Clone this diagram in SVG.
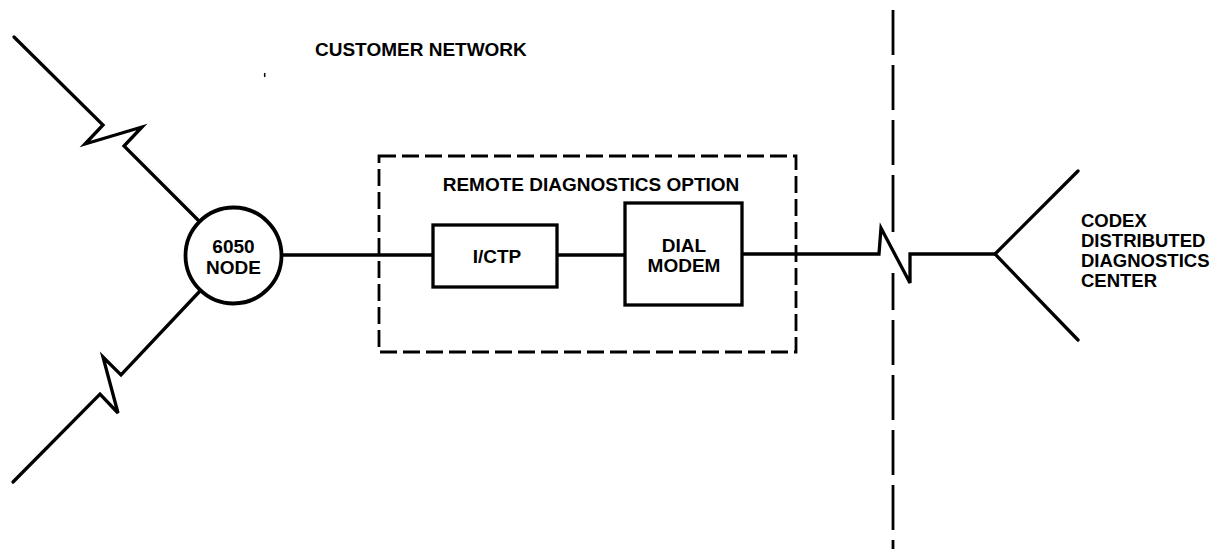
<svg xmlns="http://www.w3.org/2000/svg" width="1217" height="549" viewBox="0 0 1217 549">
<style>
.ln{fill:none;stroke:#000;stroke-width:3.3;stroke-linejoin:miter;stroke-linecap:round}
.box{fill:#fff;stroke:#000;stroke-width:3.3}
.dash{fill:none;stroke:#000;stroke-width:2.8;stroke-dasharray:17 6}
.t{font-family:"Liberation Sans",Arial,sans-serif;font-weight:bold;font-size:19px;fill:#000}
.m{text-anchor:middle}
</style>
<rect width="1217" height="549" fill="#fff"/>
<g id="connectors">
<path class="ln" d="M14,37 L103,125 L85,144 L142,127 L124,146 L199,221"/>
<path class="ln" d="M200,291 L121,375 L103,357 L118,413 L100,394 L13,482"/>
<path class="ln" d="M282,255 L433,255"/>
<path class="ln" d="M557,255 L625,255"/>
<path class="ln" d="M742,254 L879,254 L881,228 L910,283 L910,254 L995,254"/>
<path class="ln" d="M1078,171 L995,254 L1078,340"/>
</g>
<g id="boundary">
<path fill="none" stroke="#000" stroke-width="2.8" d="M893,10 V55 M893,65 V110 M893,120 V165 M893,175 V232 M893,273 V310 M893,320 V365 M893,375 V420 M893,430 V475 M893,485 V530 M893,540 V549"/>
<path fill="none" stroke="#000" stroke-width="1.5" d="M265,73 q-1,2 0,4"/>
</g>
<g id="option">
<rect class="dash" x="379" y="156" width="417" height="196"/>
<text class="t m" x="591" y="191">REMOTE DIAGNOSTICS OPTION</text>
</g>
<g id="node6050">
<circle cx="233.5" cy="255.5" r="48" fill="#fff" stroke="#000" stroke-width="3.8"/>
<text class="t m" x="233.5" y="253">6050</text>
<text class="t m" x="233.5" y="274">NODE</text>
</g>
<g id="ictp">
<rect class="box" x="433" y="225" width="124" height="62"/>
<text class="t m" x="497" y="263">I/CTP</text>
</g>
<g id="dialmodem">
<rect class="box" x="625" y="203" width="117" height="102"/>
<text class="t m" x="684" y="252">DIAL</text>
<text class="t m" x="684" y="272">MODEM</text>
</g>
<g id="title">
<text class="t" x="315" y="56">CUSTOMER NETWORK</text>
</g>
<g id="codex">
<text class="t" x="1081" y="227" style="font-size:18.5px">CODEX</text>
<text class="t" x="1081" y="247" style="font-size:18.5px">DISTRIBUTED</text>
<text class="t" x="1081" y="267" style="font-size:18.5px">DIAGNOSTICS</text>
<text class="t" x="1081" y="287" style="font-size:18.5px">CENTER</text>
</g>
</svg>
